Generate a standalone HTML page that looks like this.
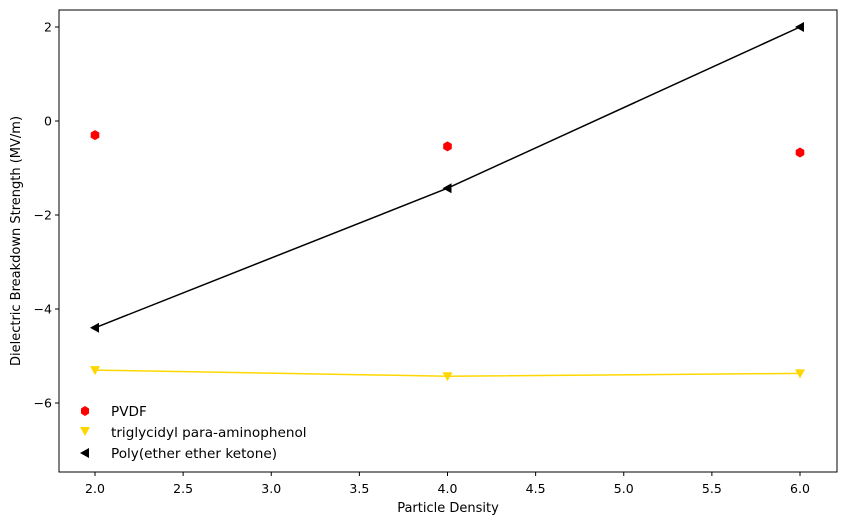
<!DOCTYPE html>
<html><head><meta charset="utf-8"><style>
body{margin:0;background:#fff;font-family:"DejaVu Sans",sans-serif}
text{font-family:"DejaVu Sans",sans-serif;fill:#000}
</style></head><body>
<svg id="chart" width="844" height="525" xmlns="http://www.w3.org/2000/svg">
<g id="grid"></g>
<g id="marks"></g>
<rect x="59" y="10" width="778" height="462" fill="none" stroke="#000" stroke-width="1"/>
<text x="448" y="512" font-size="13" text-anchor="middle">Particle Density</text>
<text transform="translate(20,241) rotate(-90)" font-size="13" text-anchor="middle">Dielectric Breakdown Strength (MV/m)</text>
<g>
<polygon points="85,406 89,408.5 89,413.5 85,416 81,413.5 81,408.5" fill="#ff0000"/>
<text x="111" y="416" font-size="13.6">PVDF</text>
<polygon points="80,427 90,427 85,436" fill="#ffd700"/>
<text x="111" y="437" font-size="13.6">triglycidyl para-aminophenol</text>
<polygon points="80,453 89,448 89,458" fill="#000"/>
<text x="111" y="458" font-size="13.6">Poly(ether ether ketone)</text>
</g>
</svg>
<script>
const xTicks=[2.0,2.5,3.0,3.5,4.0,4.5,5.0,5.5,6.0];
const yTicks=[2,0,-2,-4,-6];
const xVals=[2,4,6];
const pvdf=[-0.3,-0.54,-0.67];
const tgpap=[-5.3,-5.43,-5.37];
const peek=[-4.4,-1.43,2.0];
const NS="http://www.w3.org/2000/svg";
const sx=v=>95+(v-2)*176.25;
const sy=v=>121-v*47;
const g=document.getElementById('grid'),m=document.getElementById('marks');
function mk(t,a,p){const e=document.createElementNS(NS,t);for(const k in a)e.setAttribute(k,a[k]);p.appendChild(e);return e;}
xTicks.forEach(t=>{const x=sx(t);
const l=mk('line',{x1:x,x2:x,y1:472,y2:476,stroke:'#000'},g);


const tx=mk('text',{x:x,y:493,'font-size':12.5,'text-anchor':'middle'},g);tx.textContent=t.toFixed(1);

});
yTicks.forEach(t=>{const y=sy(t);
const l=mk('line',{x1:55,x2:59,y1:y,y2:y,stroke:'#000'},g);


const tx=mk('text',{x:52,y:y+4.5,'font-size':12.5,'text-anchor':'end'},g);tx.textContent=(t<0?'\u2212'+(-t):t);

});
function line(vals,color,name){const p=mk('polyline',{points:xVals.map((x,i)=>sx(x)+','+sy(vals[i])).join(' '),fill:'none',stroke:color,'stroke-width':1.5},m);

}
line(tgpap,'#ffd700','tgpap-line');
line(peek,'#000','peek-line');
xVals.forEach((xv,i)=>{const x=sx(xv);
let y=sy(pvdf[i]);
const h=mk('polygon',{points:[[0,-5],[4.3,-2.5],[4.3,2.5],[0,5],[-4.3,2.5],[-4.3,-2.5]].map(p=>(x+p[0])+','+(y+p[1])).join(' '),fill:'#ff0000'},m);


y=sy(tgpap[i]);
const t=mk('polygon',{points:`${x-5},${y-4} ${x+5},${y-4} ${x},${y+5}`,fill:'#ffd700'},m);


y=sy(peek[i]);
const k=mk('polygon',{points:`${x-5},${y} ${x+4},${y-5} ${x+4},${y+5}`,fill:'#000'},m);

});
</script>
</body></html>
